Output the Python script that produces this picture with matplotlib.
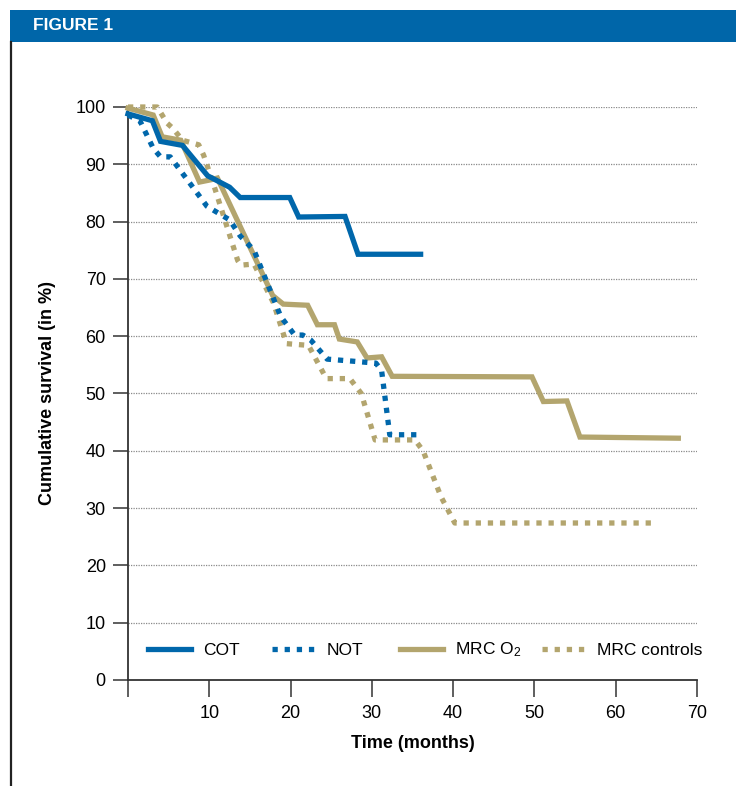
import matplotlib
matplotlib.use("Agg")
import matplotlib.pyplot as plt
from matplotlib.lines import Line2D
from matplotlib.patches import Rectangle
from matplotlib.legend import Legend

plt.rcParams['font.family'] = ['Liberation Sans', 'DejaVu Sans']
plt.rcParams['mathtext.default'] = 'regular'

# ---- data ----
cot_t = [0, 3.0, 4.0, 6.7, 9.8, 12.5, 13.8, 19.9, 21.0, 26.7, 28.3, 36.0]
cot_s = [98.8, 97.6, 94.0, 93.3, 88.0, 86.0, 84.2, 84.2, 80.8, 80.9, 74.3, 74.3]

not_t = [0, 1.5, 3.1, 4.0, 5.2, 9.7, 10.5, 12.5, 13.8, 15.5, 18.8, 20.5, 21.5, 22.5, 24.5, 28.0, 30.5, 31.2, 32.2, 35.5]
not_s = [98.6, 97.5, 92.8, 91.3, 91.3, 82.7, 82.0, 80.3, 77.5, 75.0, 63.4, 60.2, 60.2, 59.3, 56.0, 55.6, 55.3, 54.0, 42.8, 42.8]

mrc_t = [0, 3.1, 4.2, 6.5, 8.8, 10.2, 11.0, 17.8, 19.1, 22.1, 23.3, 25.4, 26.0, 28.2, 29.4, 31.2, 32.5, 49.7, 51.1, 54.0, 55.6, 67.7]
mrc_s = [99.8, 98.6, 94.8, 94.2, 86.9, 87.3, 87.6, 67.1, 65.6, 65.4, 62.0, 62.0, 59.5, 59.0, 56.2, 56.4, 53.0, 52.9, 48.6, 48.7, 42.4, 42.2]

ctl_t = [0, 3.6, 4.8, 5.5, 6.7, 8.7, 9.3, 10.5, 13.5, 13.9, 15.5, 17.9, 19.5, 22.2, 24.4, 27.3, 28.7, 30.4, 35.3, 36.3, 38.5, 40.2, 65.0]
ctl_s = [100, 100, 97.2, 96.3, 94.2, 93.4, 91.6, 86.6, 73.2, 72.4, 72.6, 65.8, 58.7, 58.4, 52.6, 52.6, 50.0, 41.9, 41.9, 40.0, 32.0, 27.4, 27.4]

labels = ['COT', 'NOT', 'MRC O$_{2}$', 'MRC controls']
x_ticks = [0, 10, 20, 30, 40, 50, 60, 70]
x_ticklabels = ['', '10', '20', '30', '40', '50', '60', '70']
y_ticks = list(range(0, 101, 10))

BLUE = '#0067AB'
TAN = '#B3A56E'

W, H = 736, 786
fig = plt.figure(figsize=(W / 100, H / 100), dpi=100)

# header band
fig.patches.append(Rectangle((10 / W, 1 - 42 / H), 1 - 10 / W, 32 / H, transform=fig.transFigure,
                             facecolor='#0066A9', edgecolor='none', zorder=0))
fig.text(33 / W, 1 - 26 / H, 'FIGURE 1', color='white', fontsize=12.5, fontweight='bold',
         va='center', ha='left')
# left border line
fig.lines.append(Line2D([10.5 / W, 10.5 / W], [0, 1 - 42 / H], transform=fig.transFigure,
                        color='#222222', linewidth=1.6))

ax = fig.add_axes([128 / W, 1 - 680 / H, (697 - 128) / W, (680 - 107) / H])
ax.set_xlim(0, 70)
ax.set_ylim(0, 100)

dot = (0, (1, 1.3))
lw = 3.8
h_cot, = ax.plot(cot_t, cot_s, color=BLUE, lw=lw, solid_joinstyle='miter', clip_on=False, label=labels[0], zorder=4)
h_not, = ax.plot(not_t, not_s, color=BLUE, lw=lw, linestyle=dot, dash_capstyle='butt', clip_on=False, label=labels[1], zorder=4)
h_mrc, = ax.plot(mrc_t, mrc_s, color=TAN, lw=lw, solid_joinstyle='miter', clip_on=False, label=labels[2], zorder=3)
h_ctl, = ax.plot(ctl_t, ctl_s, color=TAN, lw=lw, linestyle=dot, dash_capstyle='butt', clip_on=False, label=labels[3], zorder=3)

for y in y_ticks[1:]:
    ax.axhline(y, color='#8a8a8a', lw=0.9, linestyle=(0, (1, 1)), zorder=1)

ax.set_xticks(x_ticks)
ax.set_xticklabels(x_ticklabels)
ax.set_yticks(y_ticks)
ax.tick_params(axis='x', direction='out', length=12, width=1.1, color='#333333', labelsize=13, pad=6)
ax.tick_params(axis='y', direction='out', length=11, width=1.1, color='#333333', labelsize=13, pad=5)
for s in ['top', 'right']:
    ax.spines[s].set_visible(False)
for s in ['left', 'bottom']:
    ax.spines[s].set_color('#333333')
    ax.spines[s].set_linewidth(1.3)

ax.set_xlabel('Time (months)', fontsize=13, fontweight='bold', labelpad=9)
ax.set_ylabel('Cumulative survival (in %)', fontsize=13, fontweight='bold', labelpad=14)

# legend entries placed individually (positions in axes fraction)
fs = 12.5
fs_px = fs * 100 / 72
leg_x = [(148 - 128) / 569, (272 - 128) / 569, (400 - 128) / 569, (542 - 128) / 569]
leg_y = (680 - 650) / 573
for handle, lab, lx in zip([h_cot, h_not, h_mrc, h_ctl], labels, leg_x):
    lg = Legend(ax, [handle], [lab], loc='center left', bbox_to_anchor=(lx, leg_y),
                frameon=False, fontsize=fs, borderpad=0, borderaxespad=0,
                handlelength=43 / fs_px, handletextpad=12 / fs_px)
    ax.add_artist(lg)

fig.savefig('out.png', dpi=100)
